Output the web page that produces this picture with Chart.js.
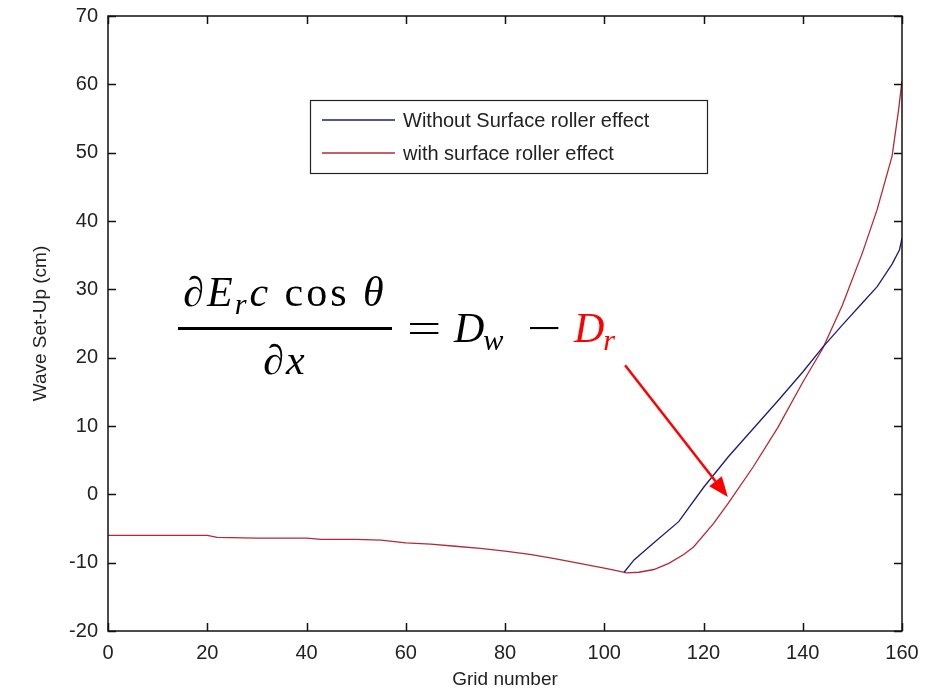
<!DOCTYPE html>
<html lang="en">
<head>
    <meta charset="UTF-8">
    <title>Wave Set-Up</title>
    <style>
        html, body { margin: 0; padding: 0; background: #fff; }
        #wrap { position: relative; width: 933px; height: 692px; }
        #myChart { position: absolute; left: 0; top: 0; }
        .eq { position: absolute; font-family: "Liberation Serif", "DejaVu Serif", serif; font-size: 42px; line-height: 40px; color: #000; white-space: nowrap; }
        .eq i { font-style: italic; }
        .eq sub { font-size: 0.72em; vertical-align: baseline; position: relative; top: 0.26em; margin-left: -1px; }
        .op { display: inline-block; transform: scaleX(1.45); transform-origin: left center; }
        .bar { position: absolute; left: 178px; top: 327px; width: 214px; height: 3px; background: #000; }
        .red { color: #ff0000; }
    </style>
</head>
<body>
<div id="wrap">
    <canvas id="myChart" width="933" height="692"></canvas>
    <!-- equation overlay -->
    <div class="eq" style="left:176px; top:272px; width:218px; text-align:center; letter-spacing:3px;"><i>∂E</i><sub><i>r</i></sub><i>c</i>&nbsp;cos&nbsp;<i>θ</i></div>
    <div class="bar"></div>
    <div class="eq" style="left:178px; top:340px; width:214px; text-align:center; letter-spacing:2px;"><i>∂x</i></div>
    <div class="eq" style="left:407px; top:308px;"><span class="op">=</span></div>
    <div class="eq" style="left:454px; top:308px;"><i>D</i><sub><i>w</i></sub></div>
    <div class="eq" style="left:527px; top:308px;"><span class="op">−</span></div>
    <div class="eq red" style="left:574px; top:308px;"><i>D</i><sub><i>r</i></sub></div>
</div>

<script src="https://cdn.jsdelivr.net/npm/chart.js@4.4.1/dist/chart.umd.min.js"></script>
<script>
// grid number / set-up values
var seriesLabels = ['Without Surface roller effect', 'with surface roller effect'];

var gridRoller = [0, 10, 20, 22, 30, 40, 43, 50, 55, 60, 65, 70, 75, 80, 85, 90, 95, 100, 102, 104.5, 107, 110, 113, 116, 118, 122, 125, 130, 135, 140, 144, 148, 152, 155, 158, 159.3, 160];
var setupRoller = [-6.0, -6.0, -6.0, -6.3, -6.4, -6.4, -6.6, -6.6, -6.7, -7.1, -7.3, -7.6, -7.9, -8.3, -8.8, -9.4, -10.1, -10.8, -11.1, -11.5, -11.4, -11.0, -10.1, -8.8, -7.7, -4.3, -1.3, 4.0, 9.8, 16.4, 21.3, 27.7, 35.3, 41.7, 49.5, 56.2, 60.5];

var gridNoRoller = [104, 106, 110, 115, 120, 125, 130, 135, 140, 144, 148, 152, 155, 158, 159.5, 160];
var setupNoRoller = [-11.4, -9.6, -7.1, -4.0, 1.0, 5.5, 9.6, 13.7, 17.9, 21.5, 24.8, 28.0, 30.4, 33.7, 35.8, 37.5];

var xTicks = [0, 20, 40, 60, 80, 100, 120, 140, 160];
var yTicks = [-20, -10, 0, 10, 20, 30, 40, 50, 60, 70];

// arrow pointing at the roller curve, in data units
var arrowFrom = [104.2, 18.9];
var arrowTo = [124.9, -0.4];

var colors = ['#1c1c78', '#b32a36'];

function toPoints(xs, ys) {
    return xs.map(function(x, i) { return { x: x, y: ys[i] }; });
}

// box, inward ticks, legend and arrow like the matlab figure
var matlabBox = {
    id: 'matlabBox',
    afterDraw: function(chart) {
        var ctx = chart.ctx;
        var a = chart.chartArea;
        var xs = chart.scales.x, ys = chart.scales.y;
        ctx.save();
        ctx.strokeStyle = '#111';
        ctx.lineWidth = 1.5;
        ctx.strokeRect(a.left, a.top, a.right - a.left, a.bottom - a.top);

        var tl = 8;
        ctx.beginPath();
        xTicks.forEach(function(t) {
            var px = Math.round(xs.getPixelForValue(t)) + 0.5;
            ctx.moveTo(px, a.bottom); ctx.lineTo(px, a.bottom - tl);
            ctx.moveTo(px, a.top); ctx.lineTo(px, a.top + tl);
        });
        yTicks.forEach(function(t) {
            var py = Math.round(ys.getPixelForValue(t)) + 0.5;
            ctx.moveTo(a.left, py); ctx.lineTo(a.left + tl, py);
            ctx.moveTo(a.right, py); ctx.lineTo(a.right - tl, py);
        });
        ctx.stroke();

        // legend box
        ctx.fillStyle = '#fff';
        ctx.fillRect(310, 100, 397, 73);
        ctx.lineWidth = 1.2;
        ctx.strokeStyle = '#222';
        ctx.strokeRect(310.5, 100.5, 397, 73);
        ctx.font = '20px "Liberation Sans", Arial, sans-serif';
        ctx.textBaseline = 'middle';
        chart.data.datasets.forEach(function(ds, i) {
            var ly = 120 + i * 33;
            ctx.strokeStyle = ds.borderColor;
            ctx.lineWidth = 1.4;
            ctx.beginPath();
            ctx.moveTo(322, ly); ctx.lineTo(395, ly);
            ctx.stroke();
            ctx.fillStyle = '#222';
            ctx.fillText(ds.label, 403, ly + 1);
        });

        // red arrow
        var x0 = xs.getPixelForValue(arrowFrom[0]), y0 = ys.getPixelForValue(arrowFrom[1]);
        var x1 = xs.getPixelForValue(arrowTo[0]), y1 = ys.getPixelForValue(arrowTo[1]);
        var ang = Math.atan2(y1 - y0, x1 - x0);
        var hl = 20, hw = 8;
        var bx = x1 - hl * Math.cos(ang), by = y1 - hl * Math.sin(ang);
        ctx.strokeStyle = '#ff0000';
        ctx.fillStyle = '#ff0000';
        ctx.lineWidth = 2.5;
        ctx.beginPath();
        ctx.moveTo(x0, y0); ctx.lineTo(bx, by);
        ctx.stroke();
        ctx.beginPath();
        ctx.moveTo(x1, y1);
        ctx.lineTo(bx + hw * Math.sin(ang), by - hw * Math.cos(ang));
        ctx.lineTo(bx - hw * Math.sin(ang), by + hw * Math.cos(ang));
        ctx.closePath();
        ctx.fill();
        ctx.restore();
    }
};

var tickFont = { family: '"Liberation Sans", Arial, sans-serif', size: 20 };

var myChart = new Chart(document.getElementById('myChart'), {
    type: 'line',
    data: {
        datasets: [
            {
                label: seriesLabels[0],
                data: toPoints(gridNoRoller, setupNoRoller),
                borderColor: colors[0],
                borderWidth: 1.3,
                pointRadius: 0,
                tension: 0,
                fill: false
            },
            {
                label: seriesLabels[1],
                data: toPoints(gridRoller, setupRoller),
                borderColor: colors[1],
                borderWidth: 1.3,
                pointRadius: 0,
                tension: 0,
                fill: false
            }
        ]
    },
    options: {
        responsive: false,
        animation: false,
        layout: { padding: { top: 16, right: 31, left: 0, bottom: 0 } },
        plugins: {
            legend: { display: false },
            tooltip: { enabled: false }
        },
        scales: {
            x: {
                type: 'linear',
                min: 0,
                max: 160,
                afterBuildTicks: function(s) { s.ticks = xTicks.map(function(v) { return { value: v }; }); },
                afterFit: function(s) { s.height = 61; s.paddingLeft = 0; s.paddingRight = 0; },
                grid: { display: false, drawTicks: false },
                border: { display: false },
                ticks: { font: tickFont, color: '#222', padding: 10, maxRotation: 0 },
                title: {
                    display: true,
                    text: 'Grid number',
                    font: { family: '"Liberation Sans", Arial, sans-serif', size: 19 },
                    color: '#222',
                    padding: { top: 0, bottom: 1 }
                }
            },
            y: {
                type: 'linear',
                min: -20,
                max: 70,
                afterBuildTicks: function(s) { s.ticks = yTicks.map(function(v) { return { value: v }; }); },
                afterFit: function(s) { s.width = 108; s.paddingTop = 0; s.paddingBottom = 0; },
                grid: { display: false, drawTicks: false },
                border: { display: false },
                ticks: { font: tickFont, color: '#222', padding: 10 },
                title: {
                    display: true,
                    text: 'Wave Set-Up (cm)',
                    font: { family: '"Liberation Sans", Arial, sans-serif', size: 19 },
                    color: '#222',
                    padding: { top: 29, bottom: 0 }
                }
            }
        }
    },
    plugins: [matlabBox]
});
</script>
</body>
</html>
